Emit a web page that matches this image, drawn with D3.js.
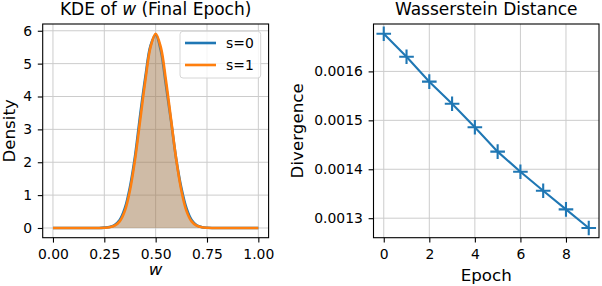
<!DOCTYPE html>
<html lang="en">
<head>
<meta charset="UTF-8">
<title>KDE and Wasserstein Distance</title>
<script src="https://d3js.org/d3.v7.min.js"></script>
<style>
    body { margin: 0; background: #fff; }
    text { font-family: "DejaVu Sans", sans-serif; fill: #000; }
</style>
</head>
<body>
<svg id="chart" width="602" height="286"></svg>
<script>
// KDE of w (w grid step 0.025)
const wGrid = [0, 0.025, 0.05, 0.075, 0.1, 0.125, 0.15, 0.175, 0.2, 0.225,
    0.25, 0.275, 0.3, 0.325, 0.35, 0.375, 0.4, 0.425, 0.45, 0.475,
    0.5, 0.525, 0.55, 0.575, 0.6, 0.625, 0.65, 0.675, 0.7, 0.725,
    0.75, 0.775, 0.8, 0.825, 0.85, 0.875, 0.9, 0.925, 0.95, 0.975, 1];
const densityS0 = [0, 0, 0, 0, 0, 0, 0, 0, 0, 0,
    0.01, 0.03, 0.09, 0.24, 0.6, 1.25, 2.2, 3.45, 4.6, 5.55,
    5.88, 5.4, 4.35, 3.25, 2.1, 1.22, 0.6, 0.24, 0.08, 0.025,
    0.006, 0, 0, 0, 0, 0, 0, 0, 0, 0, 0];
const densityS1 = [0, 0, 0, 0, 0, 0, 0, 0, 0, 0,
    0.005, 0.02, 0.07, 0.2, 0.52, 1.15, 2.1, 3.3, 4.5, 5.5,
    5.91, 5.5, 4.5, 3.3, 2.1, 1.15, 0.52, 0.2, 0.07, 0.02,
    0.005, 0, 0, 0, 0, 0, 0, 0, 0, 0, 0];
const seriesNames = ["s=0", "s=1"];

// Wasserstein distance per epoch
const epochs = [0, 1, 2, 3, 4, 5, 6, 7, 8, 9];
const distance = [0.001677, 0.00163, 0.001579, 0.001534, 0.001486,
    0.001436, 0.001395, 0.001356, 0.001318, 0.00128];

const kdeXTicks = [0, 0.25, 0.5, 0.75, 1];
const kdeYTicks = [0, 1, 2, 3, 4, 5, 6];
const epochTicks = [0, 2, 4, 6, 8];
const distTicks = [0.0013, 0.0014, 0.0015, 0.0016];

const colors = ["#1f77b4", "#ff7f0e"];
const svg = d3.select("#chart");
const plotTop = 24, plotBottom = 237.7;

function padded(lo, hi) {
    const m = (hi - lo) * 0.05;
    return [lo - m, hi + m];
}

function grid(g, x, y, xTicks, yTicks) {
    g.append("g").selectAll("line").data(xTicks).join("line")
        .attr("x1", d => x(d)).attr("x2", d => x(d))
        .attr("y1", plotTop).attr("y2", plotBottom)
        .attr("stroke", "#cccccc").attr("stroke-width", 1);
    g.append("g").selectAll("line").data(yTicks).join("line")
        .attr("x1", x.range()[0]).attr("x2", x.range()[1])
        .attr("y1", d => y(d)).attr("y2", d => y(d))
        .attr("stroke", "#cccccc").attr("stroke-width", 1);
}

function axes(g, x, y, xTicks, yTicks, xFmt, yFmt) {
    const ax = g.append("g").attr("transform", `translate(0,${plotBottom})`)
        .call(d3.axisBottom(x).tickValues(xTicks).tickFormat(xFmt)
            .tickSize(4.9).tickPadding(6.5));
    const ay = g.append("g").attr("transform", `translate(${x.range()[0]},0)`)
        .call(d3.axisLeft(y).tickValues(yTicks).tickFormat(yFmt)
            .tickSize(4.9).tickPadding(5.8));
    [ax, ay].forEach(a => {
        a.select(".domain").remove();
        a.selectAll("line").attr("stroke", "#000").attr("stroke-width", 1.1);
        a.selectAll("text").attr("font-size", 13.9)
            .attr("font-family", "DejaVu Sans, sans-serif").attr("fill", "#000");
    });
    g.append("rect")
        .attr("x", x.range()[0]).attr("y", plotTop)
        .attr("width", x.range()[1] - x.range()[0]).attr("height", plotBottom - plotTop)
        .attr("fill", "none").attr("stroke", "#000").attr("stroke-width", 1.1);
}

// ---------- left panel: KDE ----------
const xK = d3.scaleLinear().domain(padded(0, 1)).range([42.7, 268.6]);
const yK = d3.scaleLinear().domain(padded(0, d3.max(densityS1))).range([plotBottom, plotTop]);
const left = svg.append("g");
grid(left, xK, yK, kdeXTicks, kdeYTicks);

const series = [densityS0, densityS1];
const area = d3.area().x(d => xK(d[0])).y0(yK(0)).y1(d => yK(d[1])).curve(d3.curveCatmullRom);
const line = d3.line().x(d => xK(d[0])).y(d => yK(d[1])).curve(d3.curveCatmullRom);
series.forEach((s, i) => {
    const pts = wGrid.map((w, j) => [w, s[j]]);
    left.append("path").attr("d", area(pts))
        .attr("fill", colors[i]).attr("fill-opacity", 0.3);
    left.append("path").attr("d", line(pts))
        .attr("fill", "none").attr("stroke", colors[i]).attr("stroke-width", 2.6)
        .attr("stroke-linejoin", "round");
});
axes(left, xK, yK, kdeXTicks, kdeYTicks, d3.format(".2f"), d3.format("d"));

// legend
const lg = left.append("g");
lg.append("rect").attr("x", 180).attr("y", 31.3).attr("width", 80.7).attr("height", 46.7)
    .attr("rx", 3).attr("fill", "#fff").attr("fill-opacity", 0.8)
    .attr("stroke", "#d6d6d6").attr("stroke-width", 1);
seriesNames.forEach((n, i) => {
    const yy = 43 + i * 22;
    lg.append("line").attr("x1", 185).attr("x2", 216).attr("y1", yy).attr("y2", yy)
        .attr("stroke", colors[i]).attr("stroke-width", 2.6);
    lg.append("text").attr("x", 226).attr("y", yy + 5).attr("font-size", 13.9).text(n);
});

const t1 = left.append("text").attr("x", (42.7 + 268.6) / 2).attr("y", 15)
    .attr("text-anchor", "middle").attr("font-size", 17);
t1.append("tspan").text("KDE of ");
t1.append("tspan").attr("font-style", "italic").text("w");
t1.append("tspan").text(" (Final Epoch)");

left.append("text").attr("x", (42.7 + 268.6) / 2).attr("y", 275)
    .attr("text-anchor", "middle").attr("font-size", 16.7).attr("font-style", "italic").text("w");
left.append("text").attr("transform", `translate(15,${(plotTop + plotBottom) / 2}) rotate(-90)`)
    .attr("text-anchor", "middle").attr("font-size", 16.7).text("Density");

// ---------- right panel: Wasserstein ----------
const xW = d3.scaleLinear().domain(padded(0, 9)).range([373.5, 599]);
const yW = d3.scaleLinear().domain(padded(d3.min(distance), d3.max(distance))).range([plotBottom, plotTop]);
const right = svg.append("g");
grid(right, xW, yW, epochTicks, distTicks);

const wl = d3.line().x((d, i) => xW(epochs[i])).y(d => yW(d));
right.append("path").attr("d", wl(distance))
    .attr("fill", "none").attr("stroke", colors[0]).attr("stroke-width", 2.1);
const half = 7.3;
right.append("g").selectAll("path").data(distance).join("path")
    .attr("d", (d, i) => {
        const cx = xW(epochs[i]), cy = yW(d);
        return `M${cx - half},${cy}H${cx + half}M${cx},${cy - half}V${cy + half}`;
    })
    .attr("stroke", colors[0]).attr("stroke-width", 2.1).attr("fill", "none");
axes(right, xW, yW, epochTicks, distTicks, d3.format("d"), d3.format(".4f"));

right.append("text").attr("x", (373.5 + 599) / 2).attr("y", 15)
    .attr("text-anchor", "middle").attr("font-size", 17).text("Wasserstein Distance");
right.append("text").attr("x", (373.5 + 599) / 2).attr("y", 281)
    .attr("text-anchor", "middle").attr("font-size", 16.7).text("Epoch");
right.append("text").attr("transform", `translate(303,${(plotTop + plotBottom) / 2}) rotate(-90)`)
    .attr("text-anchor", "middle").attr("font-size", 16.7).text("Divergence");
</script>
</body>
</html>
